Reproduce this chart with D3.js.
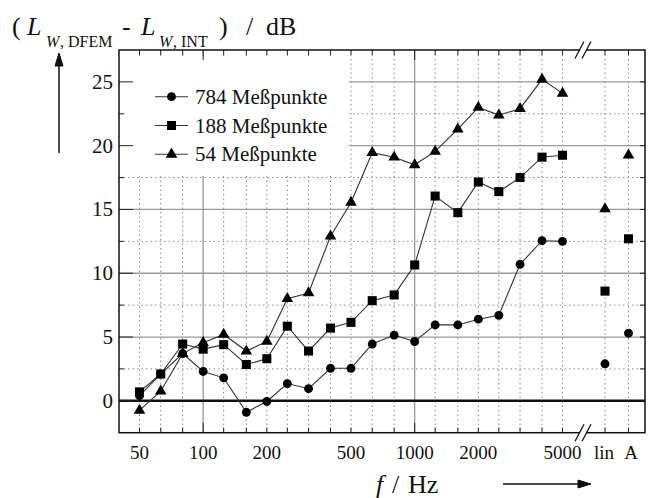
<!DOCTYPE html>
<html>
<head>
<meta charset="utf-8">
<script src="https://cdn.jsdelivr.net/npm/d3@7"></script>
<style>
  body { margin: 0; background: #fff; }
  svg { display: block; }
  svg text { font-family: "Liberation Serif", "Times New Roman", serif; fill: #111; }
</style>
</head>
<body>
<div id="chart"></div>
<script>
  // third-octave band centre frequencies
  const freqs = [50, 63, 80, 100, 125, 160, 200, 250, 315, 400, 500, 630, 800, 1000, 1250, 1600, 2000, 2500, 3150, 4000, 5000];
  const sumBands = ['lin', 'A'];
  const freqLabels = [50, 100, 200, 500, 1000, 2000, 5000];
  const yTicks = [0, 5, 10, 15, 20, 25];
  const yMinor = [2.5, 7.5, 12.5, 17.5, 22.5];

  // (L_W,DFEM - L_W,INT) in dB
  const mp784 = [0.4, 2.1, 3.7, 2.3, 1.8, -0.9, -0.05, 1.35, 0.95, 2.55, 2.55, 4.45, 5.15, 4.65, 5.95, 5.95, 6.4, 6.7, 10.7, 12.55, 12.5];
  const mp784Sum = [2.9, 5.3];
  const mp188 = [0.7, 2.1, 4.45, 4.05, 4.4, 2.85, 3.3, 5.85, 3.9, 5.7, 6.15, 7.85, 8.3, 10.65, 16.05, 14.75, 17.15, 16.4, 17.5, 19.1, 19.25];
  const mp188Sum = [8.6, 12.7];
  const mp54 = [-0.75, 0.75, 3.7, 4.55, 5.2, 3.9, 4.65, 8.0, 8.45, 12.9, 15.55, 19.45, 19.1, 18.5, 19.55, 21.3, 23.0, 22.4, 22.9, 25.2, 24.1];
  const mp54Sum = [15.05, 19.25];

  const seriesNames = ['784 Meßpunkte', '188 Meßpunkte', '54 Meßpunkte'];

  const W = 649, H = 498;
  const pLeft = 119, pRight = 645, pTop = 50, pBottom = 432.7;
  const breakX = 583;

  const svg = d3.select('#chart').append('svg')
    .attr('width', W)
    .attr('height', H);

  const x = d3.scaleLog().domain([40, 5000]).range([pLeft, 562.5]);
  const xs = d3.scalePoint().domain(sumBands).range([605, 628.5]);
  const y = d3.scaleLinear().domain([-2.5, 27.5]).range([pBottom, pTop]);

  const symbols = [d3.symbolCircle, d3.symbolSquare, d3.symbolTriangle];
  const symSizes = [62, 82, 58];

  // grid
  const grid = svg.append('g');
  const allX = freqs.map(f => ({ x: x(f), solid: f === 100 || f === 1000 }))
    .concat(sumBands.map(b => ({ x: xs(b), solid: false })));

  grid.selectAll('line.v')
    .data(allX)
    .enter()
    .append('line')
    .attr('x1', d => d.x).attr('x2', d => d.x)
    .attr('y1', pTop).attr('y2', pBottom)
    .attr('stroke', d => d.solid ? '#999' : '#888')
    .attr('stroke-width', d => d.solid ? 1.3 : 1)
    .attr('stroke-dasharray', d => d.solid ? null : '1.5,3');

  grid.selectAll('line.h')
    .data(yTicks.concat(yMinor))
    .enter()
    .append('line')
    .attr('x1', pLeft).attr('x2', pRight)
    .attr('y1', d => y(d)).attr('y2', d => y(d))
    .attr('stroke', d => d % 5 === 0 ? '#999' : '#888')
    .attr('stroke-width', d => d % 5 === 0 ? 1.3 : 1)
    .attr('stroke-dasharray', d => d % 5 === 0 ? null : '1.5,3');

  // zero line is black and heavy
  grid.append('line')
    .attr('x1', pLeft).attr('x2', pRight)
    .attr('y1', y(0)).attr('y2', y(0))
    .attr('stroke', '#111')
    .attr('stroke-width', 2.4);

  // legend background
  svg.append('rect')
    .attr('x', pLeft + 1).attr('y', 56)
    .attr('width', 348 - pLeft).attr('height', 176 - 56)
    .attr('fill', '#fff');

  // ticks
  const ticks = svg.append('g').attr('stroke', '#222').attr('stroke-width', 1);
  yTicks.forEach(v => {
    ticks.append('line').attr('x1', pLeft).attr('x2', pLeft + 14).attr('y1', y(v)).attr('y2', y(v));
    ticks.append('line').attr('x1', pRight).attr('x2', pRight - 5).attr('y1', y(v)).attr('y2', y(v));
  });
  yMinor.forEach(v => {
    ticks.append('line').attr('x1', pLeft).attr('x2', pLeft + 5).attr('y1', y(v)).attr('y2', y(v));
    ticks.append('line').attr('x1', pRight).attr('x2', pRight - 5).attr('y1', y(v)).attr('y2', y(v));
  });
  allX.forEach(d => {
    const len = d.solid ? 10 : 5;
    ticks.append('line').attr('x1', d.x).attr('x2', d.x).attr('y1', pTop).attr('y2', pTop + len);
    ticks.append('line').attr('x1', d.x).attr('x2', d.x).attr('y1', pBottom).attr('y2', pBottom - len);
  });

  // frame
  svg.append('rect')
    .attr('x', pLeft).attr('y', pTop)
    .attr('width', pRight - pLeft).attr('height', pBottom - pTop)
    .attr('fill', 'none')
    .attr('stroke', '#111')
    .attr('stroke-width', 1.5);

  // axis break marks
  [pTop, pBottom].forEach(yy => {
    svg.append('rect')
      .attr('x', breakX - 3).attr('y', yy - 2)
      .attr('width', 6).attr('height', 4)
      .attr('fill', '#fff');
    [-3.5, 3.5].forEach(dx => {
      svg.append('line')
        .attr('x1', breakX + dx - 4.5).attr('y1', yy + 8.5)
        .attr('x2', breakX + dx + 4.5).attr('y2', yy - 8.5)
        .attr('stroke', '#111')
        .attr('stroke-width', 1.3);
    });
  });

  // series
  const bandData = [mp784, mp188, mp54];
  const sumData = [mp784Sum, mp188Sum, mp54Sum];
  const line = d3.line()
    .x((d, i) => x(freqs[i]))
    .y(d => y(d));

  bandData.forEach((vals, k) => {
    const g = svg.append('g');
    g.append('path')
      .attr('d', line(vals))
      .attr('fill', 'none')
      .attr('stroke', '#333')
      .attr('stroke-width', 1.1);

    const sym = d3.symbol().type(symbols[k]).size(symSizes[k]);
    g.selectAll('path.pt')
      .data(vals)
      .enter()
      .append('path')
      .attr('d', sym)
      .attr('fill', '#000')
      .attr('transform', (d, i) => `translate(${x(freqs[i])},${y(d)})`);

    g.selectAll('path.sum')
      .data(sumData[k])
      .enter()
      .append('path')
      .attr('d', sym)
      .attr('fill', '#000')
      .attr('transform', (d, i) => `translate(${xs(sumBands[i])},${y(d)})`);
  });

  // legend
  const legend = svg.append('g');
  seriesNames.forEach((name, k) => {
    const ly = 96.7 + k * 28.8;
    legend.append('line')
      .attr('x1', 155).attr('x2', 188)
      .attr('y1', ly).attr('y2', ly)
      .attr('stroke', '#333')
      .attr('stroke-width', 1.1);
    legend.append('path')
      .attr('d', d3.symbol().type(symbols[k]).size(symSizes[k]))
      .attr('transform', `translate(171.5,${ly})`)
      .attr('fill', '#000');
    legend.append('text')
      .attr('x', 195)
      .attr('y', ly + 7)
      .attr('font-size', 21)
      .text(name);
  });

  // tick labels
  svg.selectAll('text.ylab')
    .data(yTicks)
    .enter()
    .append('text')
    .attr('x', 113)
    .attr('y', d => y(d) + 7)
    .attr('text-anchor', 'end')
    .attr('font-size', 21)
    .text(d => d);

  svg.selectAll('text.xlab')
    .data(freqLabels)
    .enter()
    .append('text')
    .attr('x', d => x(d))
    .attr('y', 459)
    .attr('text-anchor', 'middle')
    .attr('font-size', 19)
    .text(d => d);

  svg.append('text')
    .attr('x', 604).attr('y', 459)
    .attr('text-anchor', 'middle')
    .attr('font-size', 19)
    .text('lin');
  svg.append('text')
    .attr('x', 631).attr('y', 459)
    .attr('text-anchor', 'middle')
    .attr('font-size', 19)
    .text('A');

  // y axis title: ( L_W,DFEM - L_W,INT ) / dB
  const title = svg.append('text').attr('font-size', 26);
  const part = (txt, px, py, size, italic) => {
    title.append('tspan')
      .attr('x', px).attr('y', py)
      .attr('font-size', size)
      .attr('font-style', italic ? 'italic' : null)
      .text(txt);
  };
  part('(', 12, 35, 26, false);
  part('L', 27, 35, 26, true);
  part('W', 46, 47, 16, true);
  part(', DFEM', 60, 47, 16, false);
  part('-', 122, 35, 26, false);
  part('L', 141, 35, 26, true);
  part('W', 159, 47, 16, true);
  part(', INT', 173, 47, 16, false);
  part(')', 219, 35, 26, false);
  part('/', 246, 35, 26, false);
  part('dB', 266, 35, 26, false);

  // x axis title
  const xt = svg.append('text')
    .attr('font-size', 26);
  xt.append('tspan').attr('x', 376).attr('y', 493).attr('font-style', 'italic').text('f');
  xt.append('tspan').attr('x', 392).attr('y', 493).text('/');
  xt.append('tspan').attr('x', 408).attr('y', 493).text('Hz');

  // arrows
  const arrows = svg.append('g').attr('stroke', '#111').attr('fill', '#111');
  arrows.append('line').attr('x1', 59).attr('x2', 59).attr('y1', 153).attr('y2', 62).attr('stroke-width', 1.5);
  arrows.append('path').attr('d', 'M59,53 L55,66 L63,66 Z');
  arrows.append('line').attr('x1', 503).attr('x2', 580).attr('y1', 484).attr('y2', 484).attr('stroke-width', 1.5);
  arrows.append('path').attr('d', 'M591,484 L578,480 L578,488 Z');
</script>
</body>
</html>
